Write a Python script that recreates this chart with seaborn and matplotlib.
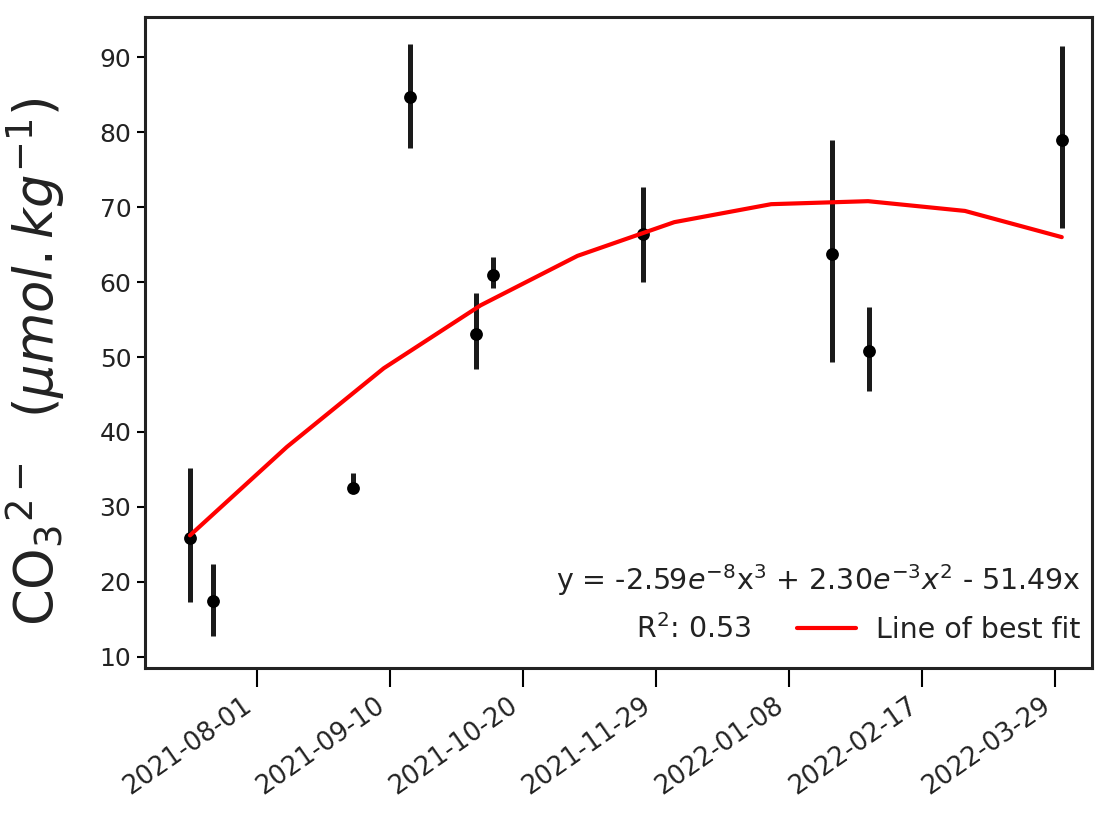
import numpy as np
import pandas as pd
import matplotlib
matplotlib.use("Agg")
import matplotlib.pyplot as plt
import matplotlib.dates as mdates
import seaborn as sns

# ---- data ----
sample_dates = ["2021-07-12", "2021-07-19", "2021-08-30", "2021-09-16", "2021-10-06",
                "2021-10-11", "2021-11-25", "2022-01-21", "2022-02-01", "2022-03-31"]
co3_values = [25.8, 17.4, 32.5, 84.7, 53.1, 61.0, 66.4, 63.7, 50.8, 78.9]
err_lower = [8.5, 4.6, 0.5, 6.8, 4.7, 1.8, 6.4, 14.3, 5.4, 11.7]
err_upper = [9.4, 5.0, 2.0, 7.1, 5.4, 2.4, 6.3, 15.2, 5.9, 12.6]
fit_values = [26.2, 38.0, 48.5, 56.9, 63.5, 68.0, 70.4, 70.8, 69.5, 66.0]
tick_dates = ["2021-08-01", "2021-09-10", "2021-10-20", "2021-11-29",
              "2022-01-08", "2022-02-17", "2022-03-29"]
y_ticks = [10, 20, 30, 40, 50, 60, 70, 80, 90]
equation = r"y = -2.59$e^{-8}$x$^3$ + 2.30$e^{-3}x^2$ - 51.49x"
r2_label = r"R$^2$: 0.53"
fit_label = "Line of best fit"
y_label = r"CO$_3$$^{2-}$  ($\mu mol.kg^{-1}$)"

sns.set_theme(style="ticks")
plt.rcParams["font.family"] = ["DejaVu Sans"]

df = pd.DataFrame({"date": pd.to_datetime(sample_dates), "co3": co3_values,
                   "lo": err_lower, "hi": err_upper})
fit_dates = pd.to_datetime(np.linspace(df["date"].iloc[0].value, df["date"].iloc[-1].value,
                                       len(fit_values)))
fit_df = pd.DataFrame({"date": fit_dates, "fit": fit_values})

fig = plt.figure(figsize=(10.95, 8.18), dpi=100)
ax = fig.add_axes([0.132, 0.1834, 0.865, 0.796])

ax.errorbar(df["date"], df["co3"], yerr=[df["lo"], df["hi"]], fmt="none",
            ecolor="#1a1a1a", elinewidth=3.6, capsize=0, zorder=2)
sns.scatterplot(data=df, x="date", y="co3", ax=ax, color="black", s=85,
                edgecolor="black", linewidth=0, zorder=3, legend=False)
# invisible handle for the R^2 entry
ax.plot([], [], " ", label=r2_label)
sns.lineplot(data=fit_df, x="date", y="fit", ax=ax, color="red", linewidth=3,
             label=fit_label, zorder=4)

ax.set_xlim(pd.Timestamp("2021-06-28 08:00"), pd.Timestamp("2022-04-09"))
ax.set_ylim(8.5, 95.4)
ax.set_yticks(y_ticks)
ax.set_xticks(pd.to_datetime(tick_dates))
ax.xaxis.set_major_formatter(mdates.DateFormatter("%Y-%m-%d"))

ax.tick_params(axis="both", labelsize=18, width=1.5, color="black", labelcolor="#222222")
ax.tick_params(axis="y", length=6)
ax.tick_params(axis="x", length=14, labelsize=18.5)
for lbl in ax.get_xticklabels():
    lbl.set_rotation(35)
    lbl.set_ha("right")
    lbl.set_rotation_mode("default")
for sp in ax.spines.values():
    sp.set_linewidth(2.2)
    sp.set_color("#222222")
    sp.set_visible(True)

ax.set_xlabel("")
ax.set_ylabel(y_label, fontsize=38, color="#222222")
ax.yaxis.set_label_coords(-0.082, 0.47)

leg = ax.legend(loc="lower right", bbox_to_anchor=(1.014, 0.0), ncol=2, frameon=False,
                title=equation, fontsize=20.5, title_fontsize=20.5,
                handlelength=2.1, columnspacing=1.6, borderaxespad=0.45,
                handletextpad=0.7, labelspacing=0.55)
for t in leg.get_texts():
    t.set_color("#222222")
leg.get_title().set_color("#222222")

fig.savefig("out.png", dpi=100)
